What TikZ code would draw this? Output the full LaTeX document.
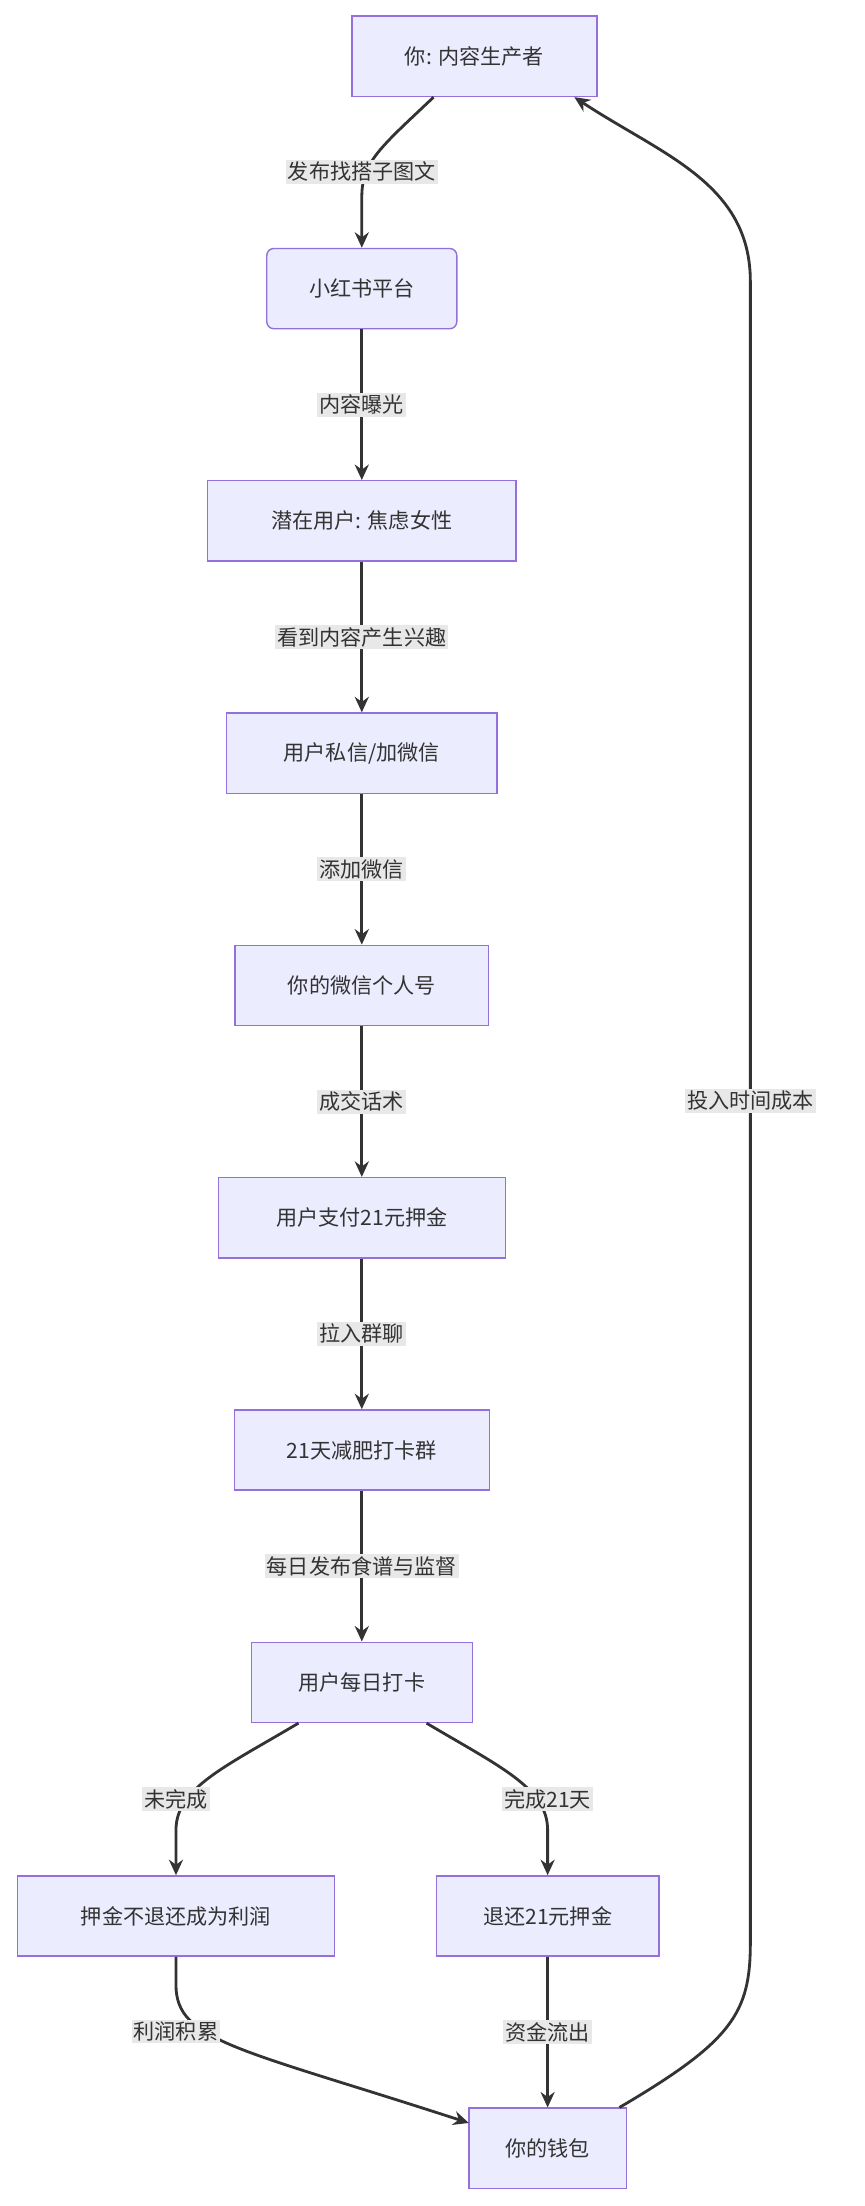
\documentclass[tikz,border=0pt]{standalone}
\usepackage{fontspec}
\setmainfont{Noto Sans CJK SC}
\usetikzlibrary{arrows.meta}
\definecolor{nf}{HTML}{ECECFF}
\definecolor{nb}{HTML}{9370DB}
\definecolor{ln}{HTML}{333333}
\definecolor{lb}{HTML}{E8E8E8}
\begin{document}
\begin{tikzpicture}[x=1pt,y=-1pt,
 box/.style={draw=nb,fill=nf,line width=1pt,minimum height=57pt,inner xsep=12pt,font=\fontsize{15}{18}\selectfont,text=ln},
 lab/.style={fill=lb,inner sep=1.5pt,font=\fontsize{15}{18}\selectfont,text=ln},
 e/.style={draw=ln,line width=2pt,-{Stealth[length=11pt,width=10pt]}}]
\useasboundingbox (0,0) rectangle (614,1567);
\node[box,minimum width=174pt] (n1) at (337,40) {你: 内容生产者};
\node[box,minimum width=135pt,rounded corners=5pt] (n2) at (257,205) {小红书平台};
\node[box,minimum width=219pt] (n3) at (257,370) {潜在用户: 焦虑女性};
\node[box,minimum width=192pt] (n4) at (257,535) {用户私信/加微信};
\node[box,minimum width=180pt] (n5) at (257,700) {你的微信个人号};
\node[box,minimum width=204pt] (n6) at (257,865) {用户支付21元押金};
\node[box,minimum width=181pt] (n7) at (257,1030) {21天减肥打卡群};
\node[box,minimum width=157pt] (n8) at (257,1195) {用户每日打卡};
\node[box,minimum width=225pt] (n9) at (125,1361) {押金不退还成为利润};
\node[box,minimum width=158pt] (n10) at (389,1361) {退还21元押金};
\node[box,minimum width=112pt] (n11) at (389,1526) {你的钱包};
\coordinate (c1) at (257,122);
\draw[e] (308,69) .. controls (270,105) and (257,115) .. (257,140) -- (n2.north);
\node[lab] at (c1) {发布找搭子图文};
\draw[e] (n2) -- node[lab]{内容曝光} (n3);
\draw[e] (n3) -- node[lab]{看到内容产生兴趣} (n4);
\draw[e] (n4) -- node[lab]{添加微信} (n5);
\draw[e] (n5) -- node[lab]{成交话术} (n6);
\draw[e] (n6) -- node[lab]{拉入群聊} (n7);
\draw[e] (n7) -- node[lab]{每日发布食谱与监督} (n8);
\draw[e] (212,1224) .. controls (160,1255) and (125,1270) .. (125,1300) -- (n9.north);
\node[lab] at (125,1278) {未完成};
\draw[e] (303,1224) .. controls (355,1255) and (389,1270) .. (389,1300) -- (n10.north);
\node[lab] at (389,1278) {完成21天};
\draw[e] (n9.south) -- (125,1410) .. controls (125,1450) and (170,1455) .. (333,1508);
\node[lab] at (125,1443) {利润积累};
\draw[e] (n10) -- node[lab]{资金流出} (n11);
\draw[e] (440,1497) .. controls (520,1450) and (533,1430) .. (533,1380) -- (533,200) .. controls (533,130) and (470,110) .. (408,69);
\node[lab] at (533,782) {投入时间成本};
\end{tikzpicture}
\end{document}
